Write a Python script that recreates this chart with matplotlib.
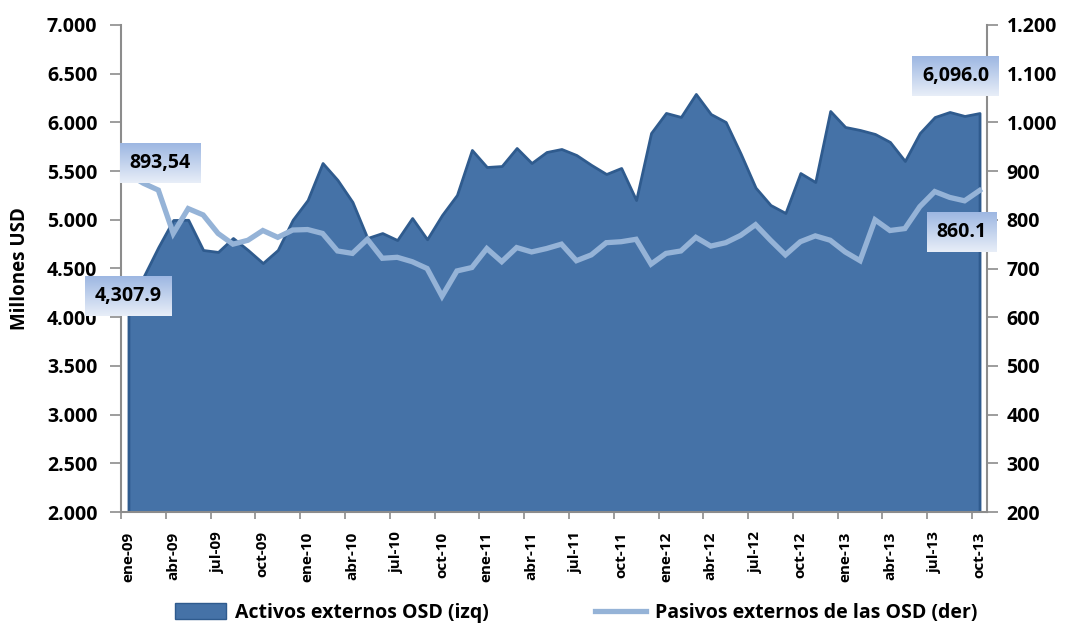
import matplotlib
matplotlib.use("Agg")
import matplotlib.pyplot as plt
import numpy as np
from matplotlib.patches import Patch
from matplotlib.lines import Line2D
from matplotlib.ticker import FuncFormatter
from matplotlib.colors import to_rgb

plt.rcParams['font.family'] = ['Open Sans', 'DejaVu Sans']
plt.rcParams['font.weight'] = 'bold'

months = ['ene', 'feb', 'mar', 'abr', 'may', 'jun', 'jul', 'ago', 'sep', 'oct', 'nov', 'dic']
years = ['09', '10', '11', '12', '13']
categories = [f'{m}-{y}' for y in years for m in months][:58]

activos = [4307.9, 4413, 4720, 4998, 5000, 4690, 4670, 4813, 4690, 4556,
           4690, 5000, 5203, 5583, 5409, 5183, 4813, 4864, 4792, 5018,
           4800, 5049, 5255, 5717, 5542, 5552, 5737, 5583, 5696, 5727,
           5665, 5563, 5470, 5532, 5203, 5891, 6097, 6056, 6292, 6086,
           6004, 5680, 5330, 5152, 5070, 5480, 5388, 6117, 5953, 5922,
           5881, 5799, 5604, 5891, 6055, 6107, 6066, 6096.0]

pasivos = [893.54, 875, 861, 772, 823, 810, 772, 750, 758, 778,
           764, 779, 780, 772, 736, 731, 760, 721, 723, 714,
           700, 643, 695, 702, 741, 714, 743, 734, 741, 750,
           716, 728, 753, 755, 760, 709, 731, 736, 764, 746,
           753, 768, 790, 758, 728, 755, 767, 758, 734, 716,
           800, 778, 782, 827, 858, 846, 839, 860.1]

series_names = ['Activos externos OSD (izq)', 'Pasivos externos de las OSD (der)']
left_ticks = [2000, 2500, 3000, 3500, 4000, 4500, 5000, 5500, 6000, 6500, 7000]
right_ticks = [200, 300, 400, 500, 600, 700, 800, 900, 1000, 1100, 1200]

area_color = '#4572a7'
edge_color = '#2f5b8e'
line_color = '#95b3d7'
axis_gray = '#8c8c8c'
grad_top = '#9db7e2'
grad_bottom = '#e8eef8'

fig = plt.figure(figsize=(10.67, 6.27), dpi=100)
ax = fig.add_axes([121 / 1067, 1 - 512 / 627, (987 - 121) / 1067, (512 - 25) / 627])
x = np.arange(len(categories))

ax.fill_between(x, 0, activos, facecolor=area_color, edgecolor=edge_color, linewidth=2.0, zorder=2)
ax.set_xlim(-0.5, len(categories) - 0.5)
ax.set_ylim(2000, 7000)
ax.set_yticks(left_ticks)
ax.yaxis.set_major_formatter(FuncFormatter(lambda v, p: f'{v:,.0f}'.replace(',', '.')))
ax.set_ylabel('Millones USD', fontsize=13.5, fontweight='bold', labelpad=12)

ax.set_xticks(x[::3])
ax.set_xticklabels(categories[::3], rotation=90, fontsize=11, fontweight='bold', va='top')
ax.set_xticks(np.arange(-0.5, len(categories), 3), minor=True)
ax.tick_params(axis='x', which='major', length=0, pad=14)
ax.tick_params(axis='x', which='minor', length=5, width=1.2, color=axis_gray, direction='out')
ax.tick_params(axis='y', length=8, width=1.2, color=axis_gray, pad=9, labelsize=14)
for t in ax.get_yticklabels():
    t.set_fontweight('bold')

for s in ['top', 'right']:
    ax.spines[s].set_visible(False)
for s in ['left', 'bottom']:
    ax.spines[s].set_color(axis_gray)
    ax.spines[s].set_linewidth(1.5)

ax2 = ax.twinx()
ax2.plot(x, pasivos, color=line_color, linewidth=3.8, solid_joinstyle='miter', zorder=3)
ax2.set_ylim(200, 1200)
ax2.set_yticks(right_ticks)
ax2.yaxis.set_major_formatter(FuncFormatter(lambda v, p: f'{v:,.0f}'.replace(',', '.')))
ax2.tick_params(axis='y', length=8, width=1.2, color=axis_gray, pad=6, labelsize=14)
for t in ax2.get_yticklabels():
    t.set_fontweight('bold')
for s in ['top', 'left', 'bottom']:
    ax2.spines[s].set_visible(False)
ax2.spines['right'].set_color(axis_gray)
ax2.spines['right'].set_linewidth(1.5)

bbox = dict(boxstyle='square,pad=0.5', fc='none', ec='none')
labels = [
    (2.13, 916, f'{pasivos[0]:.2f}'.replace('.', ',')),
    (55.8, 775, f'{pasivos[-1]:.1f}'),
    (0.0, 643, f'{activos[0]:,.1f}'),
    (55.4, 1095, f'{activos[-1]:,.1f}'),
]
texts = []
for lx, ly, s in labels:
    t = ax2.text(lx, ly, s, fontsize=14, fontweight='bold', ha='center', va='center',
                 bbox=bbox, zorder=6, clip_on=False)
    texts.append(t)

handles = [Patch(facecolor=area_color, edgecolor=edge_color, linewidth=1.0),
           Line2D([0], [0], color=line_color, linewidth=3.8)]
fig.legend(handles, series_names, loc='center', bbox_to_anchor=(0.54, 1 - 613 / 627),
           ncol=2, frameon=False, handlelength=2.6, handleheight=0.9,
           columnspacing=5.5, handletextpad=0.45, prop={'weight': 'bold', 'size': 14})

# gradient backgrounds behind the data labels
fig.canvas.draw()
renderer = fig.canvas.get_renderer()
top = np.array(to_rgb(grad_top))
bot = np.array(to_rgb(grad_bottom))
grad = np.linspace(0, 1, 64)[:, None, None]
img = (top * (1 - grad) + bot * grad) * np.ones((1, 2, 3))
inv = ax2.transData.inverted()
for t in texts:
    bb = t.get_bbox_patch().get_window_extent(renderer)
    (x0, y0), (x1, y1) = inv.transform([(bb.x0, bb.y0), (bb.x1, bb.y1)])
    ax2.imshow(img, extent=(x0, x1, y0, y1), origin='upper', aspect='auto',
               zorder=5, clip_on=False, interpolation='bilinear')
ax2.set_xlim(-0.5, len(categories) - 0.5)
ax2.set_ylim(200, 1200)

fig.savefig('out.png', dpi=100)
